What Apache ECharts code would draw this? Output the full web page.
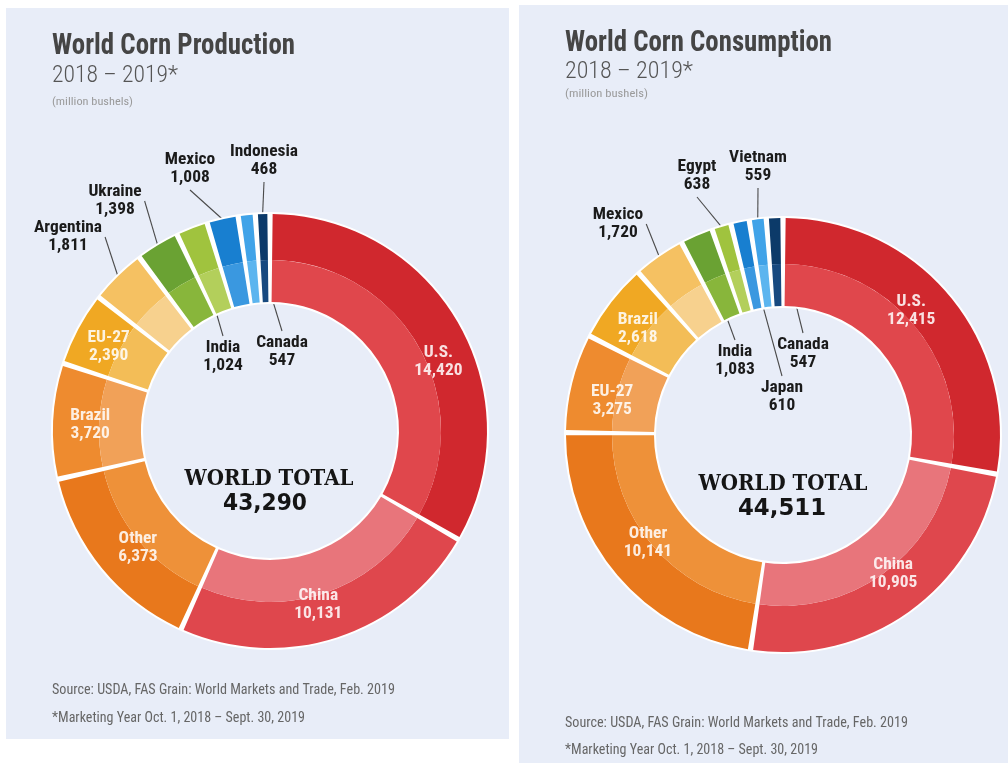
<!DOCTYPE html>
<html><head><meta charset="utf-8">
<script src="https://cdn.jsdelivr.net/npm/echarts@6/dist/echarts.min.js"></script>
<style>html,body{margin:0;padding:0;background:#fff;}#c{width:1008px;height:763px;}</style>
</head><body><div id="c"></div>
<script>
// ---- data ----
const prodCategories = ['U.S.','China','Other','Brazil','EU-27','Argentina','Ukraine','India','Mexico','Canada','Indonesia'];
const prodValues = [14420,10131,6373,3720,2390,1811,1398,1024,1008,547,468];
const consCategories = ['U.S.','China','Other','EU-27','Brazil','Mexico','India','Egypt','Japan','Vietnam','Canada'];
const consValues = [12415,10905,10141,3275,2618,1720,1083,638,610,559,547];

// ---- styles ----
const outerColors = ['#d0282e','#df474d','#e8781c','#ee8b2f','#f0a823','#f5c162','#6aa233','#a0c33e','#187fd0','#40a3e8','#0c3a69'];
const innerColors = ['#e0474c','#e8757b','#ee9139','#f1a158','#f3bd57','#f7d18e','#88b63b','#b3cf5b','#3a98e0','#5cb5ef','#17497f'];

// label placement (layout only)
const prodOutside = {'Argentina':[68,237],'Ukraine':[115,201],'Mexico':[190,169],'Indonesia':[264,161],'India':[223,357],'Canada':[282,352]};
const prodInsideAdj = {'U.S.':[16,19],'China':[-6,6],'Other':[4,5],'Brazil':[-4,2],'EU-27':[-6,-2]};
const consOutside = {'Mexico':[618,224],'Egypt':[697,176],'Vietnam':[758,167],'India':[735,361],'Canada':[803,354],'Japan':[782,397]};
const consInsideAdj = {'U.S.':[-7,-12],'China':[8,-5],'Other':[-1,-6],'EU-27':[0,8],'Brazil':[-6,1]};

const fmt = v => v.toLocaleString('en-US');
const sum = a => a.reduce((s,v)=>s+v,0);

// ---- font helpers ----
const mctx = document.createElement('canvas').getContext('2d');
function measure(font, text) { mctx.font = font; return mctx.measureText(text).width; }
function pickCondensed() {
  const t = 'Indonesia 1,008 World';
  for (const fam of ['Roboto','Open Sans','Noto Sans']) {
    const a = measure('bold 20px "' + fam + '"', t);
    const b = measure('bold condensed 20px "' + fam + '"', t);
    if (b < a * 0.93) return fam;
  }
  return null;
}
const COND = pickCondensed();
function font(weight, size, fallback) {
  if (COND) return weight + ' condensed ' + size + 'px "' + COND + '"';
  return weight + ' ' + size + 'px ' + fallback;
}
const LBL_WEIGHT = COND ? 'bold condensed' : 'bold';
const LBL_FAMILY = COND ? '"' + COND + '"' : '"DejaVu Sans Condensed", sans-serif';
let LBL_SIZE = 15.5;
if (COND) {
  const w = measure('bold condensed 20px "' + COND + '"', 'Indonesia');
  LBL_SIZE = Math.max(14, Math.min(19, 20 * 68 / w));
}

function fitText(text, x, y, f, fill, align, targetW) {
  const w = measure(f, text);
  const s = targetW / w;
  return {type:'text', silent:true, z:10, x, y, scaleX:s, scaleY:1,
    style:{text, x:0, y:0, font:f, fill, align, verticalAlign:'middle', textAlign:align, textVerticalAlign:'middle'}};
}

function donut(cats, vals, center, outside, insideAdj) {
  const R0 = 129, R1 = 171, R2 = 217, pad = 1.4;
  const common = {type:'pie', center, startAngle:90, clockwise:true, padAngle:pad, silent:true,
    animation:false, avoidLabelOverlap:false, label:{show:false}, labelLine:{show:false}};
  const mk = colors => cats.map((n,i)=>({name:n, value:vals[i], itemStyle:{color:colors[i]}}));
  return [
    {type:'pie', center, radius:[R0-2, R2+2], silent:true, animation:false,
      label:{show:false}, labelLine:{show:false}, data:[{value:1, itemStyle:{color:'#ffffff'}}]},
    Object.assign({}, common, {radius:[R1, R2], data: mk(outerColors)}),
    Object.assign({}, common, {radius:[R0, R1], data: mk(innerColors)}),
    Object.assign({}, common, {
      radius:[R0, R2],
      data: cats.map((n,i)=>{
        const o = outside[n];
        return {name:n, value:vals[i], itemStyle:{color:'rgba(0,0,0,0)'},
          label: o ? {show:true, position:'outside', color:'#1b1b1b', padding:[3,3]}
                   : {show:true, position:'inside', color:'rgba(255,255,255,0.86)'},
          labelLine:{show: !!o}};
      }),
      label:{show:true, fontFamily:LBL_FAMILY, fontWeight:LBL_WEIGHT, fontSize:LBL_SIZE, lineHeight:18,
        formatter: p => p.name + '\n' + fmt(p.value)},
      labelLine:{show:true, length:10, length2:0, lineStyle:{color:'#4a4a4a', width:1.1}},
      labelLayout: function (params) {
        const n = cats[params.dataIndex];
        const o = outside[n];
        if (o) return {x:o[0], y:o[1], align:'center', verticalAlign:'middle'};
        const a = insideAdj[n];
        if (a) return {dx:a[0], dy:a[1]};
        return {};
      }
    })
  ];
}

const TITLE_F = font('bold', 29, '"Liberation Sans", sans-serif');
const YEAR_F = font('300', 24, '"Liberation Sans", sans-serif');
const SMALL_F = font('normal', 10, '"Liberation Sans", sans-serif');
const SRC_F = font('normal', 15, '"Liberation Sans", sans-serif');
const TOT_F = 'bold 23px "DejaVu Serif", serif';
const NUM_F = 'bold 23px "DejaVu Sans", sans-serif';

const graphic = [
  {type:'rect', silent:true, z:0, shape:{x:6, y:8, width:503, height:731}, style:{fill:'#e8edf8'}},
  {type:'rect', silent:true, z:0, shape:{x:519, y:5, width:489, height:758}, style:{fill:'#e8edf8'}},
  fitText('World Corn Production', 52, 47, TITLE_F, '#454545', 'left', 243),
  fitText('2018 \u2013 2019*', 52, 76, YEAR_F, '#555', 'left', 126),
  fitText('(million bushels)', 52, 102, SMALL_F, '#9a9a9a', 'left', 81),
  fitText('WORLD TOTAL', 269, 479, TOT_F, '#151515', 'center', 169),
  fitText(fmt(sum(prodValues)), 265, 504, NUM_F, '#151515', 'center', 84),
  fitText('Source: USDA, FAS Grain: World Markets and Trade, Feb. 2019', 52, 690, SRC_F, '#666', 'left', 343),
  fitText('*Marketing Year Oct. 1, 2018 \u2013 Sept. 30, 2019', 52, 718, SRC_F, '#666', 'left', 253),
  fitText('World Corn Consumption', 565, 44, TITLE_F, '#454545', 'left', 267),
  fitText('2018 \u2013 2019*', 565, 72, YEAR_F, '#555', 'left', 128),
  fitText('(million bushels)', 565, 94, SMALL_F, '#9a9a9a', 'left', 83),
  fitText('WORLD TOTAL', 783, 484, TOT_F, '#151515', 'center', 169),
  fitText(fmt(sum(consValues)), 782, 509, NUM_F, '#151515', 'center', 88),
  fitText('Source: USDA, FAS Grain: World Markets and Trade, Feb. 2019', 565, 723, SRC_F, '#666', 'left', 343),
  fitText('*Marketing Year Oct. 1, 2018 \u2013 Sept. 30, 2019', 565, 750, SRC_F, '#666', 'left', 253)
];

const chart = echarts.init(document.getElementById('c'));
chart.setOption({
  backgroundColor:'#ffffff',
  animation:false,
  graphic: graphic,
  series: [].concat(
    donut(prodCategories, prodValues, [270, 431], prodOutside, prodInsideAdj),
    donut(consCategories, consValues, [783, 435], consOutside, consInsideAdj)
  )
});
</script>
</body></html>
